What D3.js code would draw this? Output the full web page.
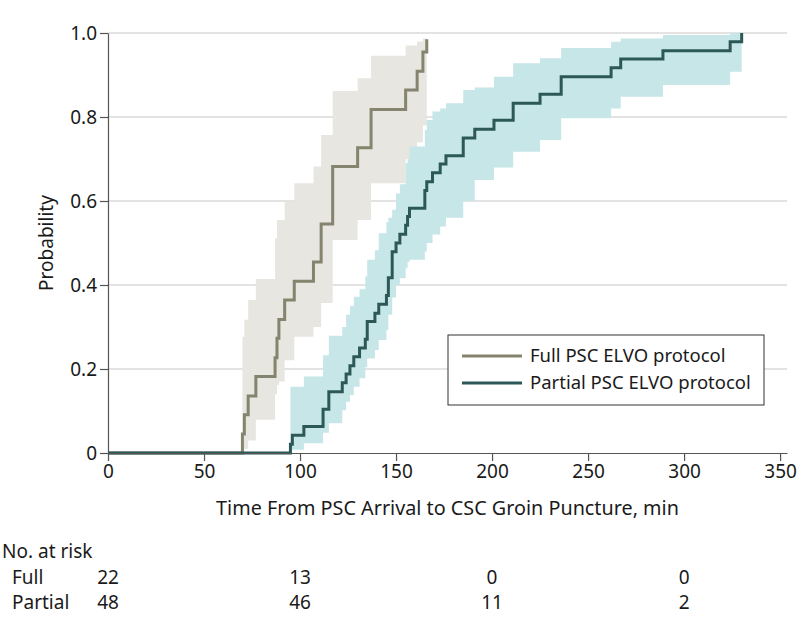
<!DOCTYPE html>
<html>
<head>
<meta charset="utf-8">
<script src="https://cdn.jsdelivr.net/npm/d3@7"></script>
<style>
  body { margin: 0; background: #fff; }
  text { font-family: "Noto Sans", "Open Sans", sans-serif; fill: #1a1a1a; }
</style>
</head>
<body>
<div id="chart"></div>
<script>
// Full PSC ELVO protocol: event times (min), cumulative probability and CI bounds
var fullTime = [0, 70, 71, 73, 77, 87, 88, 89, 92, 97, 107, 111, 117, 130, 137, 155, 161, 164, 166];
var fullEst  = [0, 0.045, 0.091, 0.136, 0.182, 0.227, 0.273, 0.318, 0.364, 0.409, 0.455, 0.545, 0.682, 0.727, 0.818, 0.864, 0.909, 0.955, 0.985];
var fullLo   = [null, 0.005, 0.01, 0.03, 0.079, 0.14, 0.162, 0.17, 0.221, 0.277, 0.30, 0.357, 0.507, 0.555, 0.642, 0.70, 0.74, 0.78, 0.80];
var fullHi   = [null, 0.277, 0.317, 0.364, 0.414, 0.511, 0.555, 0.555, 0.598, 0.642, 0.682, 0.757, 0.862, 0.892, 0.946, 0.97, 0.98, 0.987, 0.99];

// Partial PSC ELVO protocol
var partialTime = [0, 95, 96, 102, 112, 115, 122, 124, 126, 128, 131, 134, 135, 139, 141, 145, 146, 148, 150, 152, 155, 156, 157,
                   165, 166, 169, 173, 176, 185, 191, 201, 211, 225, 236, 262, 267, 289, 324, 330];
var partialEst  = [0, 0.021, 0.042, 0.063, 0.104, 0.146, 0.167, 0.188, 0.208, 0.229, 0.25, 0.271, 0.313, 0.333, 0.354, 0.375, 0.417, 0.479, 0.5, 0.521, 0.542, 0.563, 0.583,
                   0.625, 0.646, 0.667, 0.688, 0.708, 0.75, 0.771, 0.792, 0.833, 0.854, 0.896, 0.917, 0.938, 0.958, 0.979, 1.0];
var partialLo   = [null, 0.008, 0.008, 0.023, 0.048, 0.071, 0.102, 0.122, 0.138, 0.158, 0.178, 0.205, 0.225, 0.245, 0.269, 0.293, 0.329, 0.37, 0.40, 0.416, 0.44, 0.455, 0.46,
                   0.48, 0.50, 0.52, 0.539, 0.56, 0.60, 0.65, 0.68, 0.717, 0.745, 0.797, 0.82, 0.848, 0.876, 0.908, 0.908];
var partialHi   = [null, 0.158, 0.158, 0.182, 0.233, 0.279, 0.30, 0.329, 0.35, 0.372, 0.39, 0.42, 0.46, 0.483, 0.523, 0.55, 0.56, 0.579, 0.618, 0.64, 0.69, 0.70, 0.73,
                   0.769, 0.793, 0.813, 0.82, 0.833, 0.864, 0.87, 0.896, 0.928, 0.94, 0.964, 0.979, 0.987, 0.995, 1.0, 1.0];

var xTicks = [0, 50, 100, 150, 200, 250, 300, 350];
var yTicks = [0, 0.2, 0.4, 0.6, 0.8, 1.0];
var seriesNames = ['Full PSC ELVO protocol', 'Partial PSC ELVO protocol'];

// number at risk table
var riskTimes = [0, 100, 200, 300];
var riskLabels = ['Full', 'Partial'];
var fullRisk = [22, 13, 0, 0];
var partialRisk = [48, 46, 11, 2];

var width = 801, height = 630;
var fullLine = '#84846f', fullBand = '#e7e6e0';
var partLine = '#2d5858', partBand = '#c6e6e8';

var x = d3.scaleLinear().domain([0, 353.6]).range([108, 787]);
var y = d3.scaleLinear().domain([0, 1]).range([453, 33]);

var svg = d3.select('#chart').append('svg')
    .attr('width', width)
    .attr('height', height);

// gridlines
svg.append('g').selectAll('line')
    .data(yTicks.filter(function(d){ return d > 0; }))
    .enter().append('line')
    .attr('x1', x(0)).attr('x2', x(353.6))
    .attr('y1', function(d){ return y(d); })
    .attr('y2', function(d){ return y(d); })
    .attr('stroke', '#dadada')
    .attr('stroke-width', 1.5);

var toRows = function(t, est, lo, hi){
    return t.map(function(d, i){ return {t: d, est: est[i], lo: lo[i], hi: hi[i]}; });
};
var fullRows = toRows(fullTime, fullEst, fullLo, fullHi);
var partialRows = toRows(partialTime, partialEst, partialLo, partialHi);

var band = d3.area()
    .defined(function(d){ return d.lo != null; })
    .x(function(d){ return x(d.t); })
    .y0(function(d){ return y(d.lo); })
    .y1(function(d){ return y(d.hi); })
    .curve(d3.curveStepAfter);

var step = d3.line()
    .x(function(d){ return x(d.t); })
    .y(function(d){ return y(d.est); })
    .curve(d3.curveStepAfter);

svg.append('path').datum(fullRows).attr('d', band).attr('fill', fullBand);
svg.append('path').datum(partialRows).attr('d', band).attr('fill', partBand);
svg.append('path').datum(fullRows).attr('d', step)
    .attr('fill', 'none').attr('stroke', fullLine).attr('stroke-width', 3);
svg.append('path').datum(partialRows).attr('d', step)
    .attr('fill', 'none').attr('stroke', partLine).attr('stroke-width', 3);

// axes
var xAxis = d3.axisBottom(x).tickValues(xTicks).tickSizeInner(8).tickSizeOuter(0).tickPadding(4);
var yAxis = d3.axisLeft(y).tickValues(yTicks).tickSizeInner(8).tickSizeOuter(0).tickPadding(3)
    .tickFormat(function(d){ return d === 0 ? '0' : d3.format('.1f')(d); });

var gx = svg.append('g').attr('transform', 'translate(0,' + y(0) + ')').call(xAxis);
var gy = svg.append('g').attr('transform', 'translate(' + x(0) + ',0)').call(yAxis);
[gx, gy].forEach(function(g){
    g.select('.domain').attr('stroke', '#555').attr('stroke-width', 1.2);
    g.selectAll('.tick line').attr('stroke', '#555').attr('stroke-width', 1.2);
    g.selectAll('.tick text').style('font-size', '19px').style('font-family', '"Noto Sans", sans-serif').attr('fill', '#1a1a1a');
});

svg.append('text')
    .attr('x', (x(0) + x(353.6)) / 2).attr('y', 515)
    .attr('text-anchor', 'middle')
    .style('font-size', '19.8px')
    .text('Time From PSC Arrival to CSC Groin Puncture, min');

svg.append('text')
    .attr('transform', 'translate(53,' + y(0.5) + ') rotate(-90)')
    .attr('text-anchor', 'middle')
    .style('font-size', '19px')
    .text('Probability');

// legend
var legend = svg.append('g');
legend.append('rect')
    .attr('x', 448).attr('y', 335).attr('width', 316).attr('height', 70)
    .attr('fill', '#fff').attr('stroke', '#333').attr('stroke-width', 1);
seriesNames.forEach(function(name, i){
    var ly = 356 + i * 27;
    legend.append('line')
        .attr('x1', 462).attr('x2', 522).attr('y1', ly).attr('y2', ly)
        .attr('stroke', i === 0 ? fullLine : partLine).attr('stroke-width', 3);
    legend.append('text')
        .attr('x', 530).attr('y', ly + 6)
        .style('font-size', '18.5px')
        .text(name);
});

// number at risk
svg.append('text').attr('x', 2).attr('y', 558).style('font-size', '19px').text('No. at risk');
[fullRisk, partialRisk].forEach(function(row, i){
    var ry = 584 + i * 25;
    svg.append('text').attr('x', 12).attr('y', ry).style('font-size', '19px').text(riskLabels[i]);
    svg.append('g').selectAll('text')
        .data(row)
        .enter().append('text')
        .attr('x', function(d, j){ return x(riskTimes[j]); })
        .attr('y', ry)
        .attr('text-anchor', 'middle')
        .style('font-size', '19px')
        .text(function(d){ return d; });
});
</script>
</body>
</html>
